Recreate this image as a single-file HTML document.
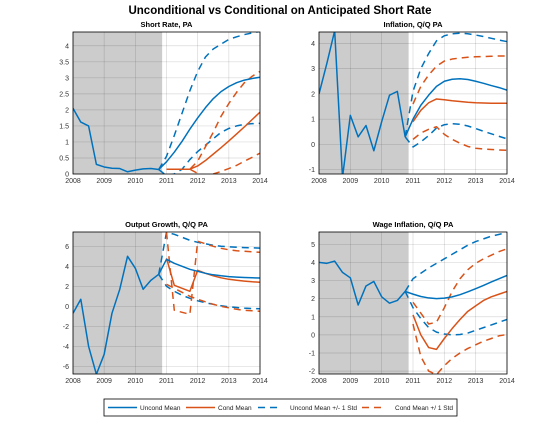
<!DOCTYPE html>
<html><head><meta charset="utf-8"><style>
body{margin:0;background:#fff;width:560px;height:420px;overflow:hidden;font-family:"Liberation Sans",sans-serif}
</style></head><body>
<svg id="fig" width="560" height="420" xmlns="http://www.w3.org/2000/svg" font-family="Liberation Sans, sans-serif">
<rect width="560" height="420" fill="#fff"/>
<text x="280" y="14" text-anchor="middle" font-size="11.5" font-weight="bold">Unconditional vs Conditional on Anticipated Short Rate</text>
<g>
<rect x="104" y="399" width="353" height="17" fill="#fff" stroke="#000" stroke-width="0.8"/>
<line x1="108" y1="407.5" x2="137" y2="407.5" stroke="#0072bd" stroke-width="1.5"/>
<text x="140" y="410" font-size="6.5" fill="#222">Uncond Mean</text>
<line x1="186" y1="407.5" x2="215" y2="407.5" stroke="#d95319" stroke-width="1.5"/>
<text x="218" y="410" font-size="6.5" fill="#222">Cond Mean</text>
<line x1="258" y1="407.5" x2="282" y2="407.5" stroke="#0072bd" stroke-width="1.5" stroke-dasharray="7,5"/>
<text x="290" y="410" font-size="6.5" fill="#222">Uncond Mean +/- 1 Std</text>
<line x1="362" y1="407.5" x2="386" y2="407.5" stroke="#d95319" stroke-width="1.5" stroke-dasharray="7,5"/>
<text x="395" y="410" font-size="6.5" fill="#222">Cond Mean +/ 1 Std</text>
</g>
</svg>
<script>
// Short rate
const srHist=[2.05,1.62,1.5,0.3,0.22,0.18,0.17,0.07,0.12,0.16,0.17,0.14];
const srUm=[0.14,0.38,0.68,1.02,1.4,1.75,2.07,2.35,2.57,2.73,2.85,2.93,2.98,3.02];
const srUu=[0.14,0.55,1.2,1.9,2.6,3.2,3.65,3.9,4.05,4.2,4.28,4.35,4.4,4.45];
const srUl=[0.14,-0.05,0.0,0.15,0.45,0.7,0.9,1.1,1.3,1.42,1.5,1.55,1.57,1.58];
const srCm=[null,0.15,0.15,0.15,0.15,0.25,0.42,0.62,0.82,1.03,1.25,1.47,1.7,1.93];
const srCu=[null,0.15,0.15,0.15,0.15,0.4,0.85,1.3,1.8,2.2,2.55,2.85,3.05,3.2];
const srCl=[null,0.15,0.15,0.15,0.15,0.02,-0.05,0,0.08,0.17,0.27,0.4,0.52,0.65];
// Inflation
const inHist=[2.0,3.2,4.5,-1.3,1.15,0.3,0.75,-0.25,0.9,1.95,2.1,0.3];
const inUm=[0.3,1.0,1.55,1.95,2.3,2.5,2.58,2.6,2.57,2.5,2.42,2.33,2.25,2.15];
const inUu=[0.3,2.1,3.0,3.6,4.1,4.3,4.38,4.4,4.38,4.33,4.27,4.2,4.13,4.07];
const inUl=[0.3,-0.1,0.1,0.35,0.65,0.78,0.82,0.8,0.73,0.63,0.52,0.42,0.32,0.22];
const inCm=[null,0.9,1.35,1.65,1.8,1.77,1.73,1.7,1.67,1.65,1.64,1.63,1.63,1.63];
const inCu=[null,1.6,2.3,2.75,3.1,3.3,3.38,3.42,3.45,3.47,3.48,3.49,3.5,3.5];
const inCl=[null,0.2,0.45,0.6,0.7,0.4,0.2,0.05,-0.08,-0.15,-0.18,-0.2,-0.22,-0.23];
// Output growth
const ogHist=[-0.7,0.7,-4,-6.8,-4.8,-0.7,1.7,5.0,3.8,1.7,2.6,3.2];
const ogUm=[3.2,4.7,4.3,4.0,3.7,3.5,3.3,3.15,3.05,2.97,2.92,2.88,2.85,2.83];
const ogUu=[3.2,7.4,7.2,6.9,6.6,6.4,6.25,6.1,6.0,5.95,5.9,5.87,5.85,5.82];
const ogUl=[3.2,2.0,1.5,1.1,0.8,0.55,0.35,0.2,0.05,-0.05,-0.12,-0.18,-0.22,-0.25];
const ogCm=[null,4.8,2.1,1.8,1.5,3.6,3.3,3.05,2.85,2.7,2.6,2.52,2.45,2.4];
const ogCu=[null,7.4,-0.4,-0.6,-0.8,6.5,6.25,6.0,5.8,5.65,5.55,5.5,5.45,5.4];
const ogCl=[null,2.2,1.8,1.4,1.0,0.7,0.45,0.2,0.0,-0.15,-0.3,-0.4,-0.45,-0.5];
// Wage inflation
const wiHist=[4.0,3.95,4.07,3.45,3.15,1.65,2.7,2.95,2.1,1.75,1.9,2.4];
const wiUm=[2.4,2.25,2.12,2.04,2.0,2.03,2.1,2.22,2.38,2.55,2.73,2.92,3.1,3.28];
const wiUu=[2.4,3.1,3.4,3.7,3.95,4.2,4.45,4.7,4.95,5.15,5.3,5.45,5.55,5.65];
const wiUl=[2.4,1.5,0.9,0.4,0.15,0.05,0.0,0.02,0.1,0.25,0.4,0.55,0.7,0.85];
const wiCm=[null,1.1,0.0,-0.7,-0.8,-0.2,0.35,0.85,1.3,1.6,1.9,2.1,2.25,2.4];
const wiCu=[null,1.8,1.2,0.6,0.7,1.5,2.4,3.1,3.6,3.95,4.2,4.4,4.6,4.75];
const wiCl=[null,0.6,-1.2,-2.0,-2.2,-1.7,-1.3,-1.0,-0.75,-0.55,-0.35,-0.2,-0.05,0.02];
const xTicks=[2008,2009,2010,2011,2012,2013,2014];

const NS="http://www.w3.org/2000/svg";
const svg=document.getElementById('fig');
function mk(tag,attrs,parent){const e=document.createElementNS(NS,tag);for(const k in attrs)e.setAttribute(k,attrs[k]);parent.appendChild(e);return e;}
let cid=0;
function panel(name,title,box,ymin,ymax,yticks,hist,um,uu,ul,cm,cu,cl){
  const g=mk('g',{},svg);
  
  
  const [x0,x1,y0,y1]=box;
  const X=t=>x0+(t-2008)/6*(x1-x0);
  const Y=v=>y1-(v-ymin)/(ymax-ymin)*(y1-y0);
  const id='c'+(cid++);
  const cp=mk('clipPath',{id:id},g);mk('rect',{x:x0,y:y0,width:x1-x0,height:y1-y0},cp);
  const sh=mk('rect',{x:x0,y:y0,width:X(2010.86)-x0,height:y1-y0,fill:'#cccccc'},g);
  
  
  xTicks.forEach(t=>{mk('line',{x1:X(t),x2:X(t),y1:y0,y2:y1,stroke:'#000','stroke-opacity':0.15,'stroke-width':0.7},g);
    const tx=mk('text',{x:X(t),y:y1+9,'text-anchor':'middle','font-size':7,fill:'#333'},g);tx.textContent=t;
    
    });
  yticks.forEach(v=>{mk('line',{x1:x0,x2:x1,y1:Y(v),y2:Y(v),stroke:'#000','stroke-opacity':0.15,'stroke-width':0.7},g);
    const tx=mk('text',{x:x0-4,y:Y(v)+2.5,'text-anchor':'end','font-size':7,fill:'#333'},g);tx.textContent=v;
    
    });
  const lg=mk('g',{'clip-path':'url(#'+id+')'},g);
  function line(arr,start,color,dash,nm){
    let d='';arr.forEach((v,i)=>{if(v===null)return;const t=start+i*0.25;d+=(d?'L':'M')+X(t).toFixed(2)+','+Y(v).toFixed(2);});
    const p=mk('path',{d:d,fill:'none',stroke:color,'stroke-width':1.5,'stroke-linejoin':'round'},lg);
    if(dash)p.setAttribute('stroke-dasharray','7,5');
    
    
  }
  line(ul,2010.75,'#0072bd',true,'uncond-lower-band');
  line(uu,2010.75,'#0072bd',true,'uncond-upper-band');
  line(cl,2010.75,'#d95319',true,'cond-lower-band');
  line(cu,2010.75,'#d95319',true,'cond-upper-band');
  line(cm,2010.75,'#d95319',false,'cond-mean-line');
  line(hist,2008,'#0072bd',false,'history-line');
  line(um,2010.75,'#0072bd',false,'uncond-mean-line');
  mk('rect',{x:x0,y:y0,width:x1-x0,height:y1-y0,fill:'none',stroke:'#000','stroke-width':0.8},g);
  const tt=mk('text',{x:(x0+x1)/2,y:y0-5,'text-anchor':'middle','font-size':7.5,'font-weight':'bold'},g);tt.textContent=title;
  
  
}
panel('short-rate-panel','Short Rate, PA',[73,260,32,174],0,4.43,[0,0.5,1,1.5,2,2.5,3,3.5,4],srHist,srUm,srUu,srUl,srCm,srCu,srCl);
panel('inflation-panel','Inflation, Q/Q PA',[319,507,32,174],-1.17,4.45,[-1,0,1,2,3,4],inHist,inUm,inUu,inUl,inCm,inCu,inCl);
panel('output-growth-panel','Output Growth, Q/Q PA',[73,260,232,374],-6.77,7.43,[-6,-4,-2,0,2,4,6],ogHist,ogUm,ogUu,ogUl,ogCm,ogCu,ogCl);
panel('wage-inflation-panel','Wage Inflation, Q/Q PA',[319,507,232,374],-2.16,5.68,[-2,-1,0,1,2,3,4,5],wiHist,wiUm,wiUu,wiUl,wiCm,wiCu,wiCl);
</script>
</body></html>
